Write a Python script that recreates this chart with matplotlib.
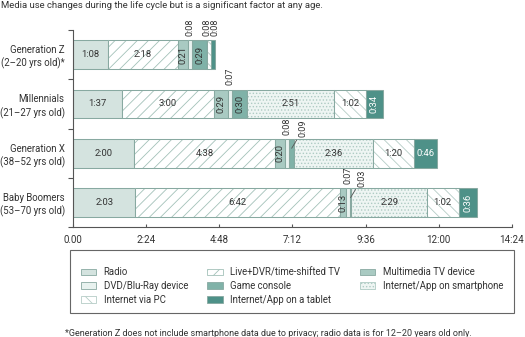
import matplotlib.pyplot as plt
from matplotlib.patches import Patch, Rectangle

plt.rcParams['font.family'] = ['Roboto', 'DejaVu Sans']
plt.rcParams['hatch.linewidth'] = 0.6

groups = ['Generation Z\n(2–20 yrs old)*', 'Millennials\n(21–27 yrs old)',
          'Generation X\n(38–52 yrs old)', 'Baby Boomers\n(53–70 yrs old)']
series = ['Radio', 'Live+DVR/time-shifted TV', 'Multimedia TV device',
          'DVD/Blu-Ray device', 'Game console', 'Internet/App on smartphone',
          'Internet via PC', 'Internet/App on a tablet']

# minutes per day
radio = [68, 97, 120, 123]
live_tv = [138, 180, 278, 402]
multimedia = [21, 29, 20, 13]
dvd = [8, 7, 8, 7]
game = [29, 30, 9, 3]
smartphone = [0, 171, 156, 149]
pc = [8, 62, 80, 62]
tablet = [8, 34, 46, 36]
values = [radio, live_tv, multimedia, dvd, game, smartphone, pc, tablet]

xticks = [0, 144, 288, 432, 576, 720, 864]
xtick_labels = ['0.00', '2:24', '4:48', '7:12', '9:36', '12:00', '14:24']

face = ['#d4e3df', '#ffffff', '#a9cac2', '#e8f2ef', '#80b2a8', '#eef5f3', '#ffffff', '#4e9188']
hatch_col = ['#d4e3df', '#a3c1b9', '#a9cac2', '#e8f2ef', '#80b2a8', '#afcbc4', '#b5ccc6', '#4e9188']
hatches = [None, '///', None, None, None, '.....', '\\\\\\', None]
edge = '#88a9a1'
dark = '#333333'

# small segments labelled above the bar: x shift in minutes, leader line
above = {(0, 6): (-5, False), (0, 7): (4, False), (2, 4): (22, True), (3, 4): (22, True)}

fig = plt.figure(figsize=(5.25, 3.37), dpi=100)
ax = fig.add_axes([0.139, 0.326, 0.836, 0.585])

h = 0.585
ypos = list(range(len(groups)))
left = [0] * len(groups)
for k, vals in enumerate(values):
    ax.barh(ypos, vals, left=left, height=h, color=face[k], edgecolor=hatch_col[k],
            hatch=hatches[k], linewidth=0)
    ax.barh(ypos, vals, left=left, height=h, fill=False, edgecolor=edge, linewidth=0.75)
    tc = 'white' if k == 7 else dark
    for i, v in enumerate(vals):
        if v == 0:
            continue
        txt = f'{v // 60}:{v % 60:02d}'
        cx = left[i] + v / 2
        if v >= 12:
            rot = 90 if v < 40 else 0
            ax.text(cx, i, txt, ha='center', va='center', rotation=rot,
                    fontsize=6.8, color=tc)
        else:
            dx, lead = above.get((i, k), (0, False))
            if lead:
                ax.annotate(txt, xy=(cx, i - 0.1), xytext=(cx + dx, i - h / 2 - 0.03),
                            rotation=90, ha='center', va='bottom', fontsize=6.5, color=dark,
                            arrowprops=dict(arrowstyle='-', color='#555555', lw=0.6,
                                            shrinkA=0, shrinkB=0, relpos=(0, 0)))
            else:
                ax.annotate(txt, xy=(cx + dx, i - h / 2), xytext=(0, 3),
                            textcoords='offset points', rotation=90, ha='center',
                            va='bottom', fontsize=6.5, color=dark)
    left = [a + b for a, b in zip(left, vals)]

ax.set_xlim(0, 864)
ax.set_ylim(3.5, -0.5)
ax.set_xticks(xticks, xtick_labels)
ax.set_yticks([-0.5, 0.5, 1.5, 2.5, 3.5])
ax.set_yticklabels([])
ax.set_yticks(ypos, minor=True)
ax.set_yticklabels(groups, minor=True, fontsize=6.9, color=dark, linespacing=1.3)
ax.tick_params(axis='y', which='minor', length=0, pad=6)
ax.tick_params(axis='y', which='major', length=3.5, direction='out', color='#555555')
ax.tick_params(axis='x', direction='in', length=2.5, pad=6, labelsize=7,
               labelcolor=dark, color='#555555')
for s in ['top', 'right']:
    ax.spines[s].set_visible(False)
for s in ['left', 'bottom']:
    ax.spines[s].set_color('#555555')
    ax.spines[s].set_linewidth(0.8)

# legend box drawn separately (the original has extra room above the first row)
fig.patches.append(Rectangle((70 / 525, 1 - 313 / 337), 444 / 525, 63 / 337,
                             transform=fig.transFigure, fill=False,
                             edgecolor='#666666', linewidth=0.8))

order = [0, 3, 6, 1, 4, 7, 2, 5]
handles = [Patch(facecolor=face[k], edgecolor=hatch_col[k] if hatches[k] else edge,
                 hatch=hatches[k], linewidth=0.6) for k in order]
labels = [series[k] for k in order]
leg = fig.legend(handles, labels, ncol=3, loc='center',
                 bbox_to_anchor=(0.1333, 1 - 286 / 337, 0.8457, 0.0), mode='expand',
                 frameon=False, fontsize=6.9, handlelength=1.6,
                 handleheight=0.7, handletextpad=0.8, labelspacing=0.38, borderpad=0.6)
for t in leg.get_texts():
    t.set_color(dark)

fig.text(0.002, 1 - 6 / 337, 'Media use changes during the life cycle but is a significant factor at any age.',
         ha='left', va='center', fontsize=6.8, color=dark)
fig.text(65 / 525, 1 - 333 / 337,
         '*Generation Z does not include smartphone data due to privacy; radio data is for 12–20 years old only.',
         ha='left', va='center', fontsize=6.5, color=dark)

fig.savefig('out.png', dpi=100)
